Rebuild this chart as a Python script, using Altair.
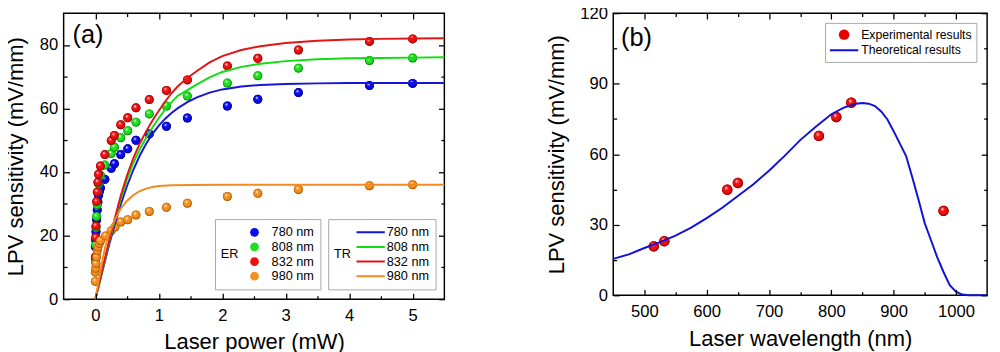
import altair as alt
import pandas as pd

FONT = "Liberation Sans"

# ---------------- Panel (a): sensitivity vs laser power ----------------
# Experimental results (ER)
er780_x = [0.0, 0.005, 0.01, 0.02, 0.03, 0.04, 0.05, 0.065, 0.08, 0.15, 0.25, 0.30, 0.40, 0.51, 0.64, 0.85, 1.12, 1.45, 2.08, 2.56, 3.2, 4.32, 5.0]
er780_y = [16.5, 18.6, 21.2, 25.0, 28.1, 30.6, 32.7, 34.0, 35.0, 37.7, 41.2, 42.6, 45.5, 47.3, 50.0, 52.0, 54.4, 57.0, 60.8, 62.9, 65.0, 67.2, 67.9]
er808_x = [0.0, 0.005, 0.01, 0.02, 0.03, 0.04, 0.05, 0.08, 0.15, 0.25, 0.30, 0.40, 0.51, 0.64, 0.85, 1.12, 1.45, 2.08, 2.56, 3.2, 4.32, 5.0]
er808_y = [12.0, 17.0, 22.5, 26.0, 29.7, 33.7, 36.3, 38.9, 42.2, 45.8, 47.8, 50.8, 53.0, 55.7, 58.3, 60.8, 63.9, 68.0, 70.3, 72.7, 75.1, 75.9]
er832_x = [0.0, 0.005, 0.01, 0.02, 0.03, 0.04, 0.05, 0.08, 0.15, 0.25, 0.30, 0.40, 0.51, 0.64, 0.85, 1.12, 1.45, 2.08, 2.56, 3.2, 4.32, 5.0]
er832_y = [13.3, 19.4, 23.0, 30.7, 33.7, 36.8, 39.3, 41.9, 45.5, 49.9, 51.5, 54.9, 57.1, 60.2, 62.8, 65.7, 69.0, 73.4, 75.8, 78.4, 81.1, 81.9]
er980_x = [0.0, 0.0, 0.005, 0.01, 0.02, 0.03, 0.04, 0.06, 0.08, 0.16, 0.25, 0.31, 0.40, 0.51, 0.64, 0.85, 1.12, 1.45, 2.08, 2.56, 3.2, 4.32, 5.0]
er980_y = [5.6, 8.5, 9.7, 11.2, 13.3, 15.2, 16.4, 17.5, 18.4, 19.9, 21.5, 22.7, 24.3, 25.0, 26.5, 27.6, 28.9, 30.2, 32.3, 33.3, 34.5, 35.7, 36.0]

# Theoretical results (TR)
tr_x = [0.0, 0.1, 0.2, 0.3, 0.4, 0.5, 0.6, 0.7, 0.8, 0.9, 1.0, 1.1, 1.2, 1.3, 1.45, 1.6, 1.8, 2.0, 2.3, 2.6, 3.0, 3.5, 4.0, 4.5, 5.0, 5.5]
tr780_y = [0, 8.0, 15.8, 23.2, 29.8, 35.7, 40.8, 45.2, 48.9, 52.0, 54.6, 56.8, 58.6, 60.1, 62.0, 63.5, 65.0, 66.0, 66.9, 67.4, 67.7, 67.9, 68.0, 68.0, 68.0, 68.0]
tr808_y = [0, 8.2, 16.5, 24.3, 31.5, 37.8, 43.0, 47.2, 50.8, 54.0, 57.0, 59.7, 62.0, 64.0, 65.8, 67.6, 69.8, 71.5, 73.1, 74.1, 74.9, 75.5, 75.8, 75.9, 76.0, 76.1]
tr832_y = [0, 8.5, 17.0, 25.0, 32.5, 39.0, 44.5, 49.0, 52.8, 56.2, 59.3, 62.2, 64.8, 67.0, 69.6, 71.8, 74.5, 76.5, 78.4, 79.6, 80.6, 81.3, 81.7, 81.9, 82.0, 82.1]
tr980_x = [0.0, 0.05, 0.1, 0.15, 0.2, 0.3, 0.4, 0.5, 0.6, 0.7, 0.8, 0.9, 1.0, 1.2, 1.5, 2.0, 3.0, 4.0, 5.5]
tr980_y = [0, 5.5, 11.0, 16.0, 19.5, 24.8, 28.5, 31.0, 32.8, 34.0, 34.8, 35.3, 35.6, 35.85, 35.95, 36.0, 36.0, 36.0, 36.0]

wl_names = ["780 nm", "808 nm", "832 nm", "980 nm"]
tr_names = ["780 nm ", "808 nm ", "832 nm ", "980 nm "]
ball_colors = ["#0a0aee", "#1fe01f", "#ee1010", "#f5901e"]
ball_dark = ["#00006a", "#0a700a", "#700000", "#9a4a00"]
line_colors = ["#1616d8", "#10dd10", "#e21414", "#f28a22"]

# ticks / labels
xa_major = [0, 1, 2, 3, 4, 5]
xa_minor = [0.5, 1.5, 2.5, 3.5, 4.5]
ya_major = [0, 20, 40, 60, 80]
ya_minor = [10, 30, 50, 70]

# ---------------- Panel (b): sensitivity vs wavelength ----------------
exp_wl = [515, 532, 633, 650, 780, 808, 832, 980]
exp_s = [20.8, 23.0, 44.9, 47.8, 67.8, 75.8, 81.9, 35.9]
th_wl = [450, 475, 500, 525, 550, 575, 600, 625, 650, 675, 700, 725, 750, 775, 800, 820, 840, 850, 860, 870, 880, 890, 900,
         910, 920, 930, 940, 950, 960, 970, 980, 990, 1000, 1010, 1020, 1050]
th_s = [15.5, 17.4, 20.1, 22.6, 25.4, 28.8, 32.8, 37.2, 42.2, 47.2, 53.0, 59.3, 66.0, 71.7, 77.0, 79.8, 81.5, 81.8, 81.5, 80.5, 78.2, 74.8, 69.8,
        64.5, 59.2, 50.1, 40.5, 30.6, 23.4, 16.1, 9.9, 4.3, 1.5, 0.3, 0.05, 0.0]
b_names = ["Experimental results", "Theoretical results"]

xb_major = [500, 600, 700, 800, 900, 1000]
xb_minor = [550, 650, 750, 850, 950]
yb_major = [0, 30, 60, 90, 120]
yb_minor = [15, 45, 75, 105]

WA, HA = 390, 293
WB, HB = 383, 289


# ---------------- helpers ----------------
def ball(c, d):
    return alt.RadialGradient(
        gradient="radial", x1=0.36, y1=0.3, r1=0.0, x2=0.5, y2=0.5, r2=0.52,
        stops=[alt.GradientStop(color="#ffffff", offset=0.0),
               alt.GradientStop(color=c, offset=0.38),
               alt.GradientStop(color=c, offset=0.7),
               alt.GradientStop(color=d, offset=1.0)])


def lab_axis(orient, values, title, tpad, lpad):
    return alt.Axis(orient=orient, values=values, ticks=False, domain=False, grid=False, format="d",
                    labelFont=FONT, labelFontSize=17, labelColor="black", labelPadding=lpad,
                    labelOverlap=False, labelFlush=False, minExtent=0,
                    title=title, titleFont=FONT, titleFontSize=22.5, titleFontWeight="normal",
                    titleColor="black", titlePadding=tpad)


def tick_axis(orient, values, size, offset):
    return alt.Axis(orient=orient, values=values, ticks=True, tickSize=size, labels=False, domain=False,
                    grid=False, title=None, offset=offset, tickColor="black", tickWidth=1.3, minExtent=0,
                    zindex=2)


def axes_for(k, W, H, xmaj, xmin, ymaj, ymin, xtitle, ytitle):
    if k == 0:
        return lab_axis("bottom", xmaj, xtitle, 8, 9), lab_axis("left", ymaj, ytitle, 12, 6)
    if k == 1:   # major ticks, inside bottom / left
        return tick_axis("top", xmaj, 6, -H), tick_axis("right", ymaj, 6, -W)
    if k == 2:   # major ticks, inside top / right
        return tick_axis("bottom", xmaj, 6, -H), tick_axis("left", ymaj, 6, -W)
    if k == 3:   # minor ticks, inside bottom / left
        return tick_axis("top", xmin, 3.5, -H), tick_axis("right", ymin, 3.5, -W)
    if k == 4:   # minor ticks, inside top / right
        return tick_axis("bottom", xmin, 3.5, -H), tick_axis("left", ymin, 3.5, -W)
    return None, None


# ---------------- panel (a) ----------------
pts_a = pd.concat([
    pd.DataFrame({"x": er780_x, "y": er780_y, "er": wl_names[0]}),
    pd.DataFrame({"x": er808_x, "y": er808_y, "er": wl_names[1]}),
    pd.DataFrame({"x": er832_x, "y": er832_y, "er": wl_names[2]}),
    pd.DataFrame({"x": er980_x, "y": er980_y, "er": wl_names[3]}),
], ignore_index=True)
lines_a = pd.concat([
    pd.DataFrame({"x": tr_x, "y": tr780_y, "tr": tr_names[0]}),
    pd.DataFrame({"x": tr_x, "y": tr808_y, "tr": tr_names[1]}),
    pd.DataFrame({"x": tr_x, "y": tr832_y, "tr": tr_names[2]}),
    pd.DataFrame({"x": tr980_x, "y": tr980_y, "tr": tr_names[3]}),
], ignore_index=True)

xs_a = alt.Scale(domain=[-0.5, 5.5], nice=False, zero=False)
ys_a = alt.Scale(domain=[0, 90], nice=False, zero=False)


def ax_a(k):
    return axes_for(k, WA, HA, xa_major, xa_minor, ya_major, ya_minor,
                    "Laser power (mW)", "LPV sensitivity (mV/mm)")


legend_er = alt.Legend(
    title="ER", orient="none", legendX=155, legendY=211, titleOrient="left",
    titleFont=FONT, titleFontSize=13, titleFontWeight="normal", titleColor="black", titlePadding=9,
    labelFont=FONT, labelFontSize=13, labelColor="black", labelOffset=11,
    symbolType="circle", symbolSize=80, symbolStrokeWidth=0, clipHeight=15, rowPadding=0,
    padding=6, strokeColor="#a8a8a8", fillColor="white")
legend_tr = alt.Legend(
    title="TR", orient="none", legendX=271, legendY=211, titleOrient="left",
    titleFont=FONT, titleFontSize=13, titleFontWeight="normal", titleColor="black", titlePadding=4,
    labelFont=FONT, labelFontSize=13, labelColor="black", labelOffset=1,
    symbolType="stroke", symbolSize=841, symbolStrokeWidth=2, clipHeight=15, rowPadding=0,
    padding=6, strokeColor="#a8a8a8", fillColor="white")

xa0, ya0 = ax_a(0)
base_a = alt.Chart(pts_a).mark_point(filled=True, size=85, opacity=1, strokeWidth=0).encode(
    x=alt.X("x:Q", scale=xs_a, axis=xa0),
    y=alt.Y("y:Q", scale=ys_a, axis=ya0),
    fill=alt.Fill("er:N", scale=alt.Scale(domain=wl_names, range=ball_colors), legend=legend_er),
)
balls_a = []
for k, (n, c, d) in enumerate(zip(wl_names, ball_colors, ball_dark), start=1):
    xa, ya = ax_a(k)
    balls_a.append(
        alt.Chart(pts_a).transform_filter(alt.datum.er == n).mark_point(
            filled=True, size=85, opacity=1, strokeWidth=0, fill=ball(c, d)).encode(
            x=alt.X("x:Q", scale=xs_a, axis=xa), y=alt.Y("y:Q", scale=ys_a, axis=ya)))

lines_layer_a = alt.Chart(lines_a).mark_line(strokeWidth=2).encode(
    x=alt.X("x:Q", scale=xs_a, axis=None),
    y=alt.Y("y:Q", scale=ys_a, axis=None),
    stroke=alt.Stroke("tr:N", scale=alt.Scale(domain=tr_names, range=line_colors), legend=legend_tr),
)
label_a = alt.Chart(pd.DataFrame({"t": ["(a)"]})).mark_text(
    align="left", baseline="alphabetic", font=FONT, fontSize=26, color="black").encode(
    x=alt.value(9), y=alt.value(31), text="t:N")

panel_a = alt.layer(base_a, *balls_a, lines_layer_a, label_a).resolve_axis(
    x="independent", y="independent").properties(width=WA, height=HA)

# ---------------- panel (b) ----------------
pts_b = pd.DataFrame({"wl": exp_wl, "s": exp_s, "series": b_names[0]})
line_b = pd.DataFrame({"wl": th_wl, "s": th_s, "series": b_names[1]})
xs_b = alt.Scale(domain=[450, 1050], nice=False, zero=False)
ys_b = alt.Scale(domain=[0, 120], nice=False, zero=False)


def ax_b(k):
    return axes_for(k, WB, HB, xb_major, xb_minor, yb_major, yb_minor,
                    "Laser wavelength (nm)", "LPV sensitivity (mV/mm)")


CIRCLE = "M -0.37 0 A 0.37 0.37 0 1 0 0.37 0 A 0.37 0.37 0 1 0 -0.37 0 Z"
legend_b = alt.Legend(
    title=None, orient="none", legendX=217, legendY=10,
    labelFont=FONT, labelFontSize=12.5, labelColor="black", labelOffset=2,
    symbolSize=841, symbolStrokeWidth=2, symbolFillColor="transparent", symbolStrokeColor="transparent",
    clipHeight=16, rowPadding=0, padding=4, strokeColor="#a8a8a8", fillColor="white")

xb0, yb0 = ax_b(0)
key_b = alt.Chart(pts_b).mark_point(filled=True, size=841, opacity=1, strokeWidth=2).encode(
    x=alt.X("wl:Q", scale=xs_b, axis=xb0),
    y=alt.Y("s:Q", scale=ys_b, axis=yb0),
    fill=alt.Fill("series:N", scale=alt.Scale(domain=b_names, range=["#e60000", "transparent"]), legend=legend_b),
    stroke=alt.Stroke("series:N", scale=alt.Scale(domain=b_names, range=["transparent", "#1010d8"]), legend=legend_b),
    shape=alt.Shape("series:N", scale=alt.Scale(domain=b_names, range=[CIRCLE, "stroke"]), legend=legend_b),
)
xb1, yb1 = ax_b(1)
balls_b = alt.Chart(pts_b).mark_point(
    filled=True, size=110, opacity=1, strokeWidth=0, fill=ball("#ee1010", "#700000")).encode(
    x=alt.X("wl:Q", scale=xs_b, axis=xb1),
    y=alt.Y("s:Q", scale=ys_b, axis=yb1),
)
xb2, yb2 = ax_b(2)
line_layer_b = alt.Chart(line_b).mark_line(strokeWidth=2, color="#1010d8").encode(
    x=alt.X("wl:Q", scale=xs_b, axis=xb2),
    y=alt.Y("s:Q", scale=ys_b, axis=yb2),
)
carriers_b = []
for k in (3, 4):
    xk, yk = ax_b(k)
    carriers_b.append(alt.Chart(line_b).mark_line(opacity=0).encode(
        x=alt.X("wl:Q", scale=xs_b, axis=xk), y=alt.Y("s:Q", scale=ys_b, axis=yk)))
label_b = alt.Chart(pd.DataFrame({"t": ["(b)"]})).mark_text(
    align="left", baseline="alphabetic", font=FONT, fontSize=26, color="black").encode(
    x=alt.value(8), y=alt.value(34), text="t:N")

panel_b = alt.layer(key_b, balls_b, line_layer_b, *carriers_b, label_b).resolve_axis(
    x="independent", y="independent").properties(width=WB, height=HB)

chart = alt.hconcat(panel_a, panel_b, spacing=97).resolve_scale(
    fill="independent", stroke="independent", shape="independent"
).configure(
    padding={"left": -4, "top": -9, "right": 0, "bottom": 0}, font=FONT, background="white"
).configure_view(stroke="black", strokeWidth=1.5)

chart.save("out.html", embed_options={"renderer": "svg", "actions": False})
